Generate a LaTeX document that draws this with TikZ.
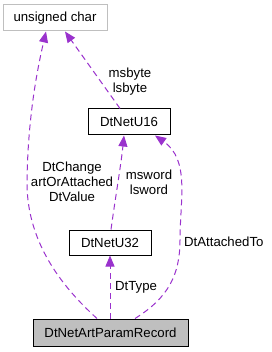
\documentclass[tikz,border=0pt]{standalone}
\usepackage{fontspec}
\setmainfont{Liberation Sans}
\usetikzlibrary{arrows.meta}
\definecolor{edgepurple}{HTML}{9A32CD}
\definecolor{boxgrey}{HTML}{BFBFBF}

\begin{document}
\begin{tikzpicture}[x=1pt, y=-1pt,
    font=\fontsize{13.2}{15}\selectfont,
    classbox/.style={draw=black, line width=1pt, minimum height=26pt, inner sep=0pt},
    usage/.style={draw=edgepurple, line width=1pt, dash pattern=on 6pt off 4pt,
        -{Triangle[length=11pt, width=9pt, fill=edgepurple]}},
    edgelabel/.style={align=center, inner sep=0pt}]
    \useasboundingbox (0,0) rectangle (271,352);

    % Classes
    \node[classbox, draw=boxgrey, minimum width=104pt] (uchar) at (55,18) {unsigned char};
    \node[classbox, minimum width=82pt] (u16) at (129,122) {DtNetU16};
    \node[classbox, minimum width=82pt, minimum height=25pt] (u32) at (110,242.5) {DtNetU32};
    \node[classbox, fill=boxgrey, minimum width=155pt, minimum height=27pt] (rec) at (110.5,332.5) {DtNetArtParamRecord};

    % Members
    \draw[usage] ([xshift=-13.5pt]rec.north) .. controls (60,285) and (26,240) .. (27,180)
        .. controls (28,120) and (36,75) .. ([xshift=-9pt]uchar.south);
    \node[edgelabel] (lblrec) at (72,182) {DtChange\\artOrAttached\\DtValue};

    \draw[usage] ([xshift=-9pt]u16.north) -- ([xshift=10pt]uchar.south);
    \node[edgelabel] (lblu16) at (130,82) {msbyte\\lsbyte};

    \draw[usage] ([xshift=1pt]u32.north) .. controls (115,200) and (121,165) .. ([xshift=-5pt]u16.south);
    \node[edgelabel] (lblu32) at (149,182) {msword\\lsword};

    \draw[usage] ([xshift=24.5pt]rec.north) .. controls (168,298) and (180,275) .. (180,240)
        .. controls (180,200) and (190,160) .. ([xshift=26pt]u16.south);
    \node[edgelabel, anchor=west] (lblatt) at (184,242) {DtAttachedTo};

    \draw[usage] (rec.north -| u32.south) -- (u32.south);
    \node[edgelabel, anchor=west] (lbltype) at (115,287) {DtType};
\end{tikzpicture}
\end{document}
